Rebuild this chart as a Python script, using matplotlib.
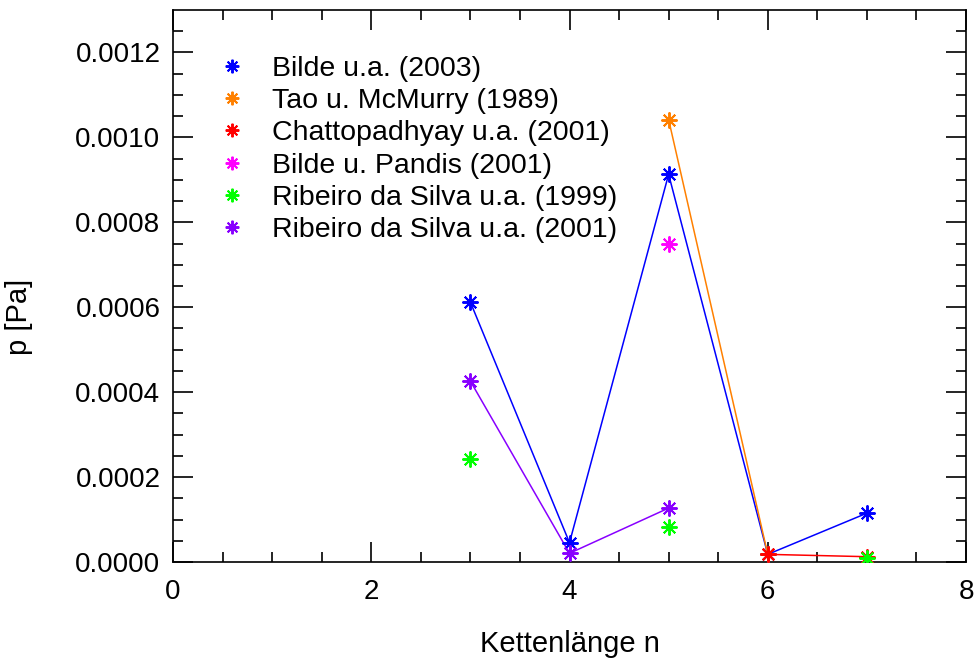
import matplotlib
matplotlib.use("Agg")
import matplotlib.pyplot as plt
import numpy as np

plt.rcParams['font.family'] = ['Liberation Sans', 'DejaVu Sans']

# chain length n and vapour pressure p [Pa] per source
n_bilde03 = [3, 4, 5, 6, 7]
p_bilde03 = [0.000612, 0.0000455, 0.000913, 0.000018, 0.000115]

n_tao = [5, 6]
p_tao = [0.001042, 0.000018]

n_chatto = [6, 7]
p_chatto = [0.000018, 0.0000125]

n_pandis = [5]
p_pandis = [0.000750]

n_ribeiro99 = [3, 5, 7]
p_ribeiro99 = [0.000242, 0.0000825, 0.0000095]

n_ribeiro01 = [3, 4, 5]
p_ribeiro01 = [0.000426, 0.0000205, 0.000127]

labels = ["Bilde u.a. (2003)", "Tao u. McMurry (1989)", "Chattopadhyay u.a. (2001)",
          "Bilde u. Pandis (2001)", "Ribeiro da Silva u.a. (1999)",
          "Ribeiro da Silva u.a. (2001)"]
colors = ["#0000ff", "#ff8000", "#ff0000", "#ff00ff", "#00ff00", "#8800ff"]
connected = [True, True, True, False, False, True]

series = [(n_bilde03, p_bilde03), (n_tao, p_tao), (n_chatto, p_chatto),
          (n_pandis, p_pandis), (n_ribeiro99, p_ribeiro99), (n_ribeiro01, p_ribeiro01)]

fig = plt.figure(figsize=(9.75, 6.61), dpi=100)
ax = fig.add_axes([173 / 975, 1 - 562 / 661, 793 / 975, 552 / 661])

asterisk = (8, 2, 0)
handles = []
for (x, y), lab, col, conn in zip(series, labels, colors, connected):
    if conn:
        ax.plot(x, y, color=col, lw=1.1, zorder=2)
    h, = ax.plot(x, y, ls='none', marker=asterisk, ms=11.5, mew=1.4,
                 color=col, label=lab, zorder=3)
    handles.append(h)

ax.set_xlim(0, 8)
ax.set_ylim(0, 0.0013)
ax.set_xticks(np.arange(0, 8.1, 2))
ax.set_xticks(np.arange(0, 8.1, 0.5), minor=True)
ax.set_yticks(np.arange(0, 0.00121, 0.0002))
ax.set_yticks(np.arange(0, 0.0013, 0.00005), minor=True)
ax.set_yticklabels([f"{v:.4f}" for v in np.arange(0, 0.00121, 0.0002)])

for sp in ax.spines.values():
    sp.set_linewidth(1.2)
ax.tick_params(which='both', direction='in', top=True, right=True,
               labelsize=20, width=1.2)
ax.tick_params(axis='x', which='both', pad=12)
ax.tick_params(axis='y', which='both', pad=9)
ax.tick_params(which='major', length=14.5)
ax.tick_params(which='minor', length=7.2)

ax.set_xlabel("Kettenlänge n", fontsize=21, labelpad=18)
ax.set_ylabel("p [Pa]", fontsize=21)
ax.yaxis.set_label_coords(-0.176, 0.444)

ax.legend(handles=handles, loc='upper left', bbox_to_anchor=(0.057, 0.917),
          frameon=False, fontsize=20.5, handlelength=1.0, handletextpad=0.9,
          labelspacing=0.22, borderpad=0, borderaxespad=0, markerscale=0.85)

fig.savefig("out.png", dpi=100)
